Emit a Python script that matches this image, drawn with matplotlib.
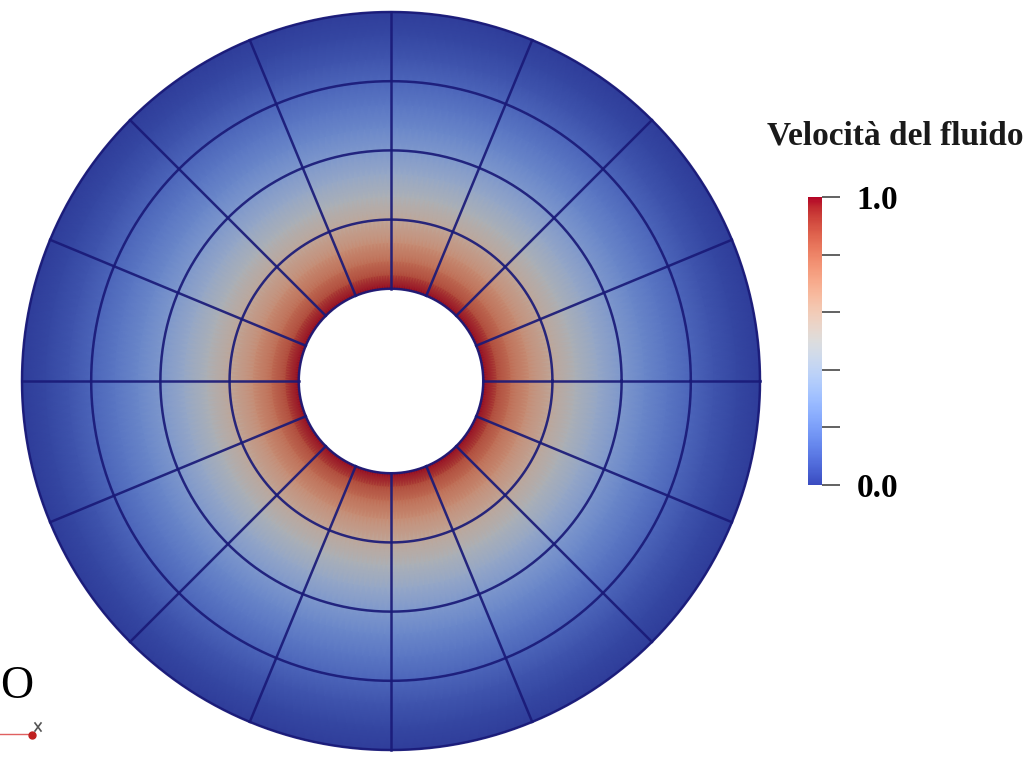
import numpy as np
import matplotlib.pyplot as plt
from matplotlib import cm, colors

# radial velocity profile across the annulus (inner wall = 1, outer wall = 4)
r_nodes = [1.0, 1.15, 1.3, 1.5, 1.75, 2.0, 2.25, 2.5, 2.75, 3.0, 3.25, 3.5, 3.75, 4.0]
velocity = [1.0, 0.88, 0.79, 0.69, 0.58, 0.48, 0.38, 0.30, 0.23, 0.17, 0.12, 0.07, 0.03, 0.0]

# mesh lines
grid_radii = [1.0, 1.75, 2.5, 3.25, 4.0]
n_spokes = 16

cbar_ticks = [0.0, 0.2, 0.4, 0.6, 0.8, 1.0]
cbar_labels = ['0.0', '', '', '', '', '1.0']

W, H = 1029, 758
fig = plt.figure(figsize=(W / 100, H / 100), dpi=100)
serif = ['Liberation Serif', 'DejaVu Serif']

# annulus: center at (391, 381) px, outer radius 369 px
scale = 369 / 4.0
half = 4.05 * scale
cx, cy = 391, H - 381
ax = fig.add_axes([(cx - half) / W, (cy - half) / H, 2 * half / W, 2 * half / H])
ax.set_xlim(-4.05, 4.05)
ax.set_ylim(-4.05, 4.05)
ax.set_aspect('equal')
ax.axis('off')

cmap = plt.get_cmap('coolwarm')
norm = colors.Normalize(0, 1)
# the surface is drawn with a little shading, so darken the map for it
lut = cmap(np.linspace(0, 1, 256))
lut[:, :3] *= 0.8
shaded = colors.ListedColormap(lut)

theta = np.linspace(0, 2 * np.pi, 241)
R, T = np.meshgrid(r_nodes, theta, indexing='ij')
C = np.repeat(np.array(velocity)[:, None], len(theta), axis=1)
for _ in range(2):
    ax.pcolormesh(R * np.cos(T), R * np.sin(T), C, cmap=shaded, norm=norm,
                  shading='gouraud', antialiased=False)

line_c = '#1a1a78'
t_fine = np.linspace(0, 2 * np.pi, 721)
for rr in grid_radii:
    ax.plot(rr * np.cos(t_fine), rr * np.sin(t_fine), color=line_c, lw=1.8, alpha=0.92)
for k in range(n_spokes):
    a = k * 2 * np.pi / n_spokes
    ax.plot([grid_radii[0] * np.cos(a), grid_radii[-1] * np.cos(a)],
            [grid_radii[0] * np.sin(a), grid_radii[-1] * np.sin(a)],
            color=line_c, lw=1.8, alpha=0.92)

# colour bar
cax = fig.add_axes([808 / W, (H - 485) / H, 14 / W, 288 / H])
cb = fig.colorbar(cm.ScalarMappable(norm=norm, cmap=cmap), cax=cax, ticks=cbar_ticks)
cb.outline.set_visible(False)
cax.set_yticklabels(cbar_labels)
cax.tick_params(axis='y', length=13, width=1.3, color='#555555', pad=12, labelsize=24)
for t in cax.get_yticklabels():
    t.set_family(serif)
    t.set_fontweight('bold')

fig.text(895 / W, 1 - 136 / H, 'Velocità del fluido', ha='center', va='center',
         family=serif, fontweight='bold', fontsize=24, color='#1a1a1a')

# orientation marker bottom-left
ov = fig.add_axes([0, 0, 1, 1], facecolor='none')
ov.set_xlim(0, W)
ov.set_ylim(H, 0)
ov.axis('off')
ov.text(17, 687, 'O', ha='center', va='center', family=serif, fontsize=33, color='black')
ov.plot([0, 34], [734, 734], color='#e06060', lw=1.0)
ov.plot([32], [735], 'o', color='#c02020', ms=5)
ov.plot([35, 41], [723, 731], color='#555555', lw=1.2)
ov.plot([35, 41], [731, 723], color='#555555', lw=1.2)

fig.savefig('out.png', dpi=100)
